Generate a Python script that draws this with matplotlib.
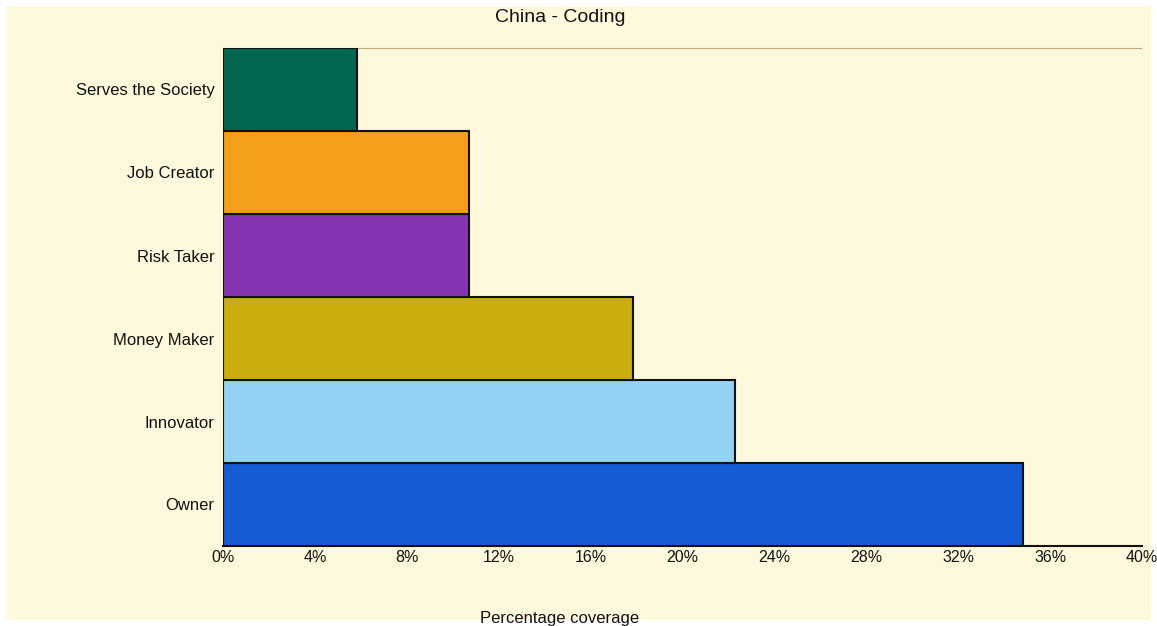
import matplotlib.pyplot as plt
import matplotlib.patches as mpatches
from matplotlib.ticker import FuncFormatter

plt.rcParams['font.family'] = ['Liberation Sans', 'DejaVu Sans']

categories = ["Owner", "Innovator", "Money Maker", "Risk Taker", "Job Creator", "Serves the Society"]
values = [34.8, 22.3, 17.85, 10.7, 10.7, 5.85]
colors = ["#155bd5", "#92d2f2", "#c9ae0e", "#8434b0", "#f59e1a", "#036650"]
xticks = [0, 4, 8, 12, 16, 20, 24, 28, 32, 36, 40]

bg = "#fef9dc"
fig = plt.figure(figsize=(11.57, 6.26), dpi=100, facecolor="white")
fig.patches.append(mpatches.Rectangle((6 / 1157, 6 / 626), 1 - 12 / 1157, 1 - 12 / 626,
                                      transform=fig.transFigure, facecolor=bg,
                                      edgecolor="none", zorder=-10))

ax = fig.add_axes([223 / 1157, 1 - 546 / 626, (1142 - 223) / 1157, (546 - 48) / 626])
ax.set_facecolor(bg)

ypos = range(len(categories))
ax.barh(ypos, values, height=1.0, color=colors, edgecolor="#111111", linewidth=1.5, zorder=3)

ax.set_xlim(0, 40)
ax.set_ylim(-0.5, len(categories) - 0.5)
ax.set_xticks(xticks)
ax.xaxis.set_major_formatter(FuncFormatter(lambda v, p: f"{int(v)}%"))
ax.set_yticks(list(ypos))
ax.set_yticklabels(categories)
ax.tick_params(axis="x", length=0, labelsize=11.5, colors="#111111", pad=3)
ax.tick_params(axis="y", length=0, labelsize=12, colors="#111111", pad=6)

for s in ["left", "right"]:
    ax.spines[s].set_visible(False)
ax.spines["bottom"].set_color("#111111")
ax.spines["bottom"].set_linewidth(1.5)
ax.spines["top"].set_color("#c0a878")
ax.spines["top"].set_linestyle((0, (0.8, 0.8)))
ax.spines["top"].set_linewidth(0.8)

fig.text(560 / 1157, 1 - 18 / 626, "China - Coding", ha="center", va="center",
         fontsize=14, color="#111111")
fig.text(560 / 1157, 1 - 618 / 626, "Percentage coverage", ha="center", va="center",
         fontsize=12, color="#111111")

fig.savefig("out.png", dpi=100, facecolor="white")
